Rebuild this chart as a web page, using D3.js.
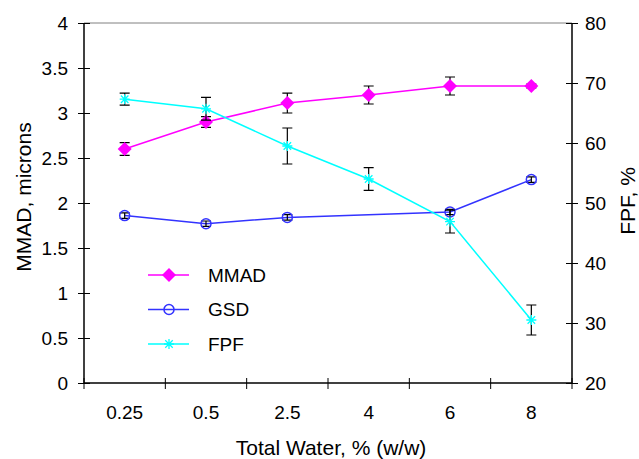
<!DOCTYPE html>
<html>
<head>
<meta charset="utf-8">
<script src="https://cdn.jsdelivr.net/npm/d3@7"></script>
<style>
  body { margin: 0; background: #fff; }
  text { font-family: "Liberation Sans", Arial, sans-serif; fill: #000; }
</style>
</head>
<body>
<script>
// ---- data ----
const water = ["0.25", "0.5", "2.5", "4", "6", "8"];
const mmad = [2.6, 2.9, 3.11, 3.2, 3.3, 3.3];
const mmadErr = [0.07, 0.06, 0.11, 0.1, 0.1, 0.02];
const gsd = [1.86, 1.77, 1.84, null, 1.9, 2.26];
const gsdErr = [0.03, 0.03, 0.03, null, 0.03, 0.03];
const fpf = [67.3, 65.7, 59.5, 54, 46.9, 30.5];
const fpfErr = [1.0, 1.9, 3.0, 1.9, 1.9, 2.5];
const leftTicks = [0, 0.5, 1, 1.5, 2, 2.5, 3, 3.5, 4];
const rightTicks = [20, 30, 40, 50, 60, 70, 80];

const W = 639, H = 459;
const M = { t: 23, l: 84, r: 67, b: 76 };
const iw = W - M.l - M.r, ih = H - M.t - M.b;

const svg = d3.select("body").append("svg").attr("width", W).attr("height", H);
const g = svg.append("g").attr("transform", `translate(${M.l},${M.t})`);

const x = d3.scaleBand().domain(water).range([0, iw]).padding(0);
const cx = (i) => x(water[i]) + x.bandwidth() / 2;
const yL = d3.scaleLinear().domain([0, 4]).range([ih, 0]);
const yR = d3.scaleLinear().domain([20, 80]).range([ih, 0]);

// top border
g.append("line").attr("x1", 0).attr("x2", iw).attr("y1", 0).attr("y2", 0)
  .attr("stroke", "#808080").attr("stroke-width", 1);

// left axis
const ax = g.append("g").call(d3.axisLeft(yL).tickValues(leftTicks).tickSize(6).tickPadding(10).tickFormat(d3.format("")));
ax.selectAll(".tick line").attr("x1", -6).attr("x2", 6);
// right axis
const ar = g.append("g").attr("transform", `translate(${iw},0)`)
  .call(d3.axisRight(yR).tickValues(rightTicks).tickSize(6).tickPadding(7));
ar.selectAll(".tick line").attr("x1", -6).attr("x2", 6);
// bottom axis (labels only, ticks at band edges)
const ab = g.append("g").attr("transform", `translate(0,${ih})`)
  .call(d3.axisBottom(x).tickSize(0).tickPadding(23));
const edges = water.map((c) => x(c)).concat([iw]);
ab.selectAll(".edge").data(edges).join("line").attr("class", "edge")
  .attr("x1", (d) => d).attr("x2", (d) => d).attr("y1", -5).attr("y2", 6)
  .attr("stroke", "#000");
[ax, ar, ab].forEach((a) => {
  a.select(".domain").attr("stroke", "#000").attr("stroke-width", 1.5);
  a.selectAll(".tick line").attr("stroke", "#000");
  a.selectAll("text").style("font-size", "19px").style("font-family", "Liberation Sans, Arial, sans-serif");
});
ab.select(".domain").attr("d", `M0,0H${iw}`);
ax.select(".domain").attr("d", `M0,${ih}V0`);
ar.select(".domain").attr("d", `M0,${ih}V0`);

// axis titles
svg.append("text").attr("transform", `translate(31,${M.t + ih / 2 - 6}) rotate(-90)`)
  .attr("text-anchor", "middle").style("font-size", "21px").text("MMAD, microns");
svg.append("text").attr("transform", `translate(635,${M.t + ih / 2 - 2}) rotate(-90)`)
  .attr("text-anchor", "middle").style("font-size", "21px").text("FPF, %");
svg.append("text").attr("x", M.l + iw / 2 + 3).attr("y", 455)
  .attr("text-anchor", "middle").style("font-size", "21px").text("Total Water, % (w/w)");

const series = [
  { name: "MMAD", vals: mmad, err: mmadErr, y: yL, color: "#ff00ff", marker: "diamond" },
  { name: "GSD", vals: gsd, err: gsdErr, y: yL, color: "#3333ff", marker: "circle" },
  { name: "FPF", vals: fpf, err: fpfErr, y: yR, color: "#00ffff", marker: "star" },
];

function drawMarker(sel, s, px, py) {
  if (s.marker === "diamond") {
    sel.append("path").attr("d", `M${px},${py - 7}L${px + 7},${py}L${px},${py + 7}L${px - 7},${py}Z`)
      .attr("fill", s.color);
  } else if (s.marker === "circle") {
    sel.append("circle").attr("cx", px).attr("cy", py).attr("r", 5)
      .attr("fill", "none").attr("stroke", s.color).attr("stroke-width", 1.5);
  } else {
    const r = 5;
    sel.append("path")
      .attr("d", `M${px - r},${py}H${px + r}M${px - r * 0.75},${py - r * 0.75}L${px + r * 0.75},${py + r * 0.75}M${px - r * 0.75},${py + r * 0.75}L${px + r * 0.75},${py - r * 0.75}M${px},${py - r}V${py + r}`)
      .attr("stroke", s.color).attr("stroke-width", 1.3);
  }
}

series.forEach((s) => {
  const pts = s.vals.map((v, i) => ({ i, v, e: s.err[i] })).filter((d) => d.v != null);
  const line = d3.line().x((d) => cx(d.i)).y((d) => s.y(d.v));
  g.append("path").datum(pts).attr("d", line).attr("fill", "none")
    .attr("stroke", s.color).attr("stroke-width", 1.5);
  // error bars
  pts.forEach((d) => {
    const x0 = cx(d.i), y1 = s.y(d.v + d.e), y2 = s.y(d.v - d.e);
    g.append("path").attr("d", `M${x0},${y1}V${y2}M${x0 - 5},${y1}H${x0 + 5}M${x0 - 5},${y2}H${x0 + 5}`)
      .attr("stroke", "#000").attr("stroke-width", 1.2).attr("fill", "none");
  });
  pts.forEach((d) => drawMarker(g, s, cx(d.i), s.y(d.v)));
});

// legend
const lg = svg.append("g").attr("transform", "translate(148,275)");
series.forEach((s, k) => {
  const row = lg.append("g").attr("transform", `translate(0,${k * 34.5})`);
  row.append("line").attr("x1", 0).attr("x2", 41).attr("stroke", s.color).attr("stroke-width", 1.5);
  drawMarker(row, s, 21, 0);
  row.append("text").attr("x", 60).attr("y", 0).attr("dy", "0.36em").style("font-size", "19px").text(s.name);
});
</script>
</body>
</html>
